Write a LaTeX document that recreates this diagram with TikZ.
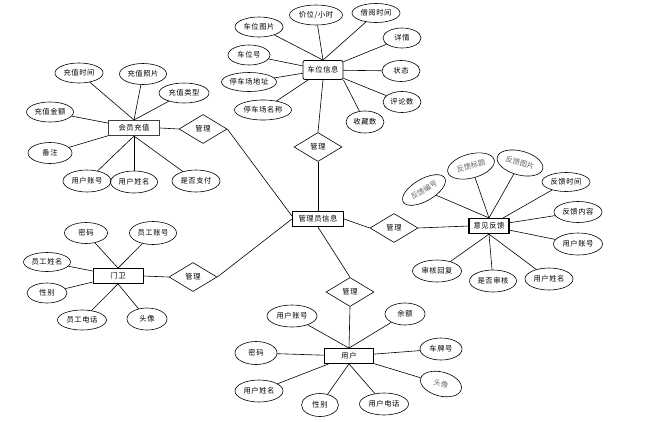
\documentclass[tikz,border=0pt]{standalone}
\usepackage{fontspec}
\setmainfont[LetterSpace=8]{Noto Sans CJK SC}
\newfontfamily\plaincjk{Noto Sans CJK SC}
\usetikzlibrary{shapes.geometric}
\begin{document}
\begin{tikzpicture}[x=1pt,y=-1pt,
  every node/.style={font=\fontsize{7.3}{9}\selectfont, inner sep=0pt},
  attr/.style={ellipse, draw, line width=0.6pt, minimum width=48pt, minimum height=21pt},
  soft/.style={text=black!60, font=\plaincjk\fontsize{7.3}{9}\selectfont},
  ent/.style={rectangle, draw, line width=0.8pt, minimum width=50pt, minimum height=15pt},
  dbl/.style={line width=1.2pt},
  rel/.style={diamond, draw, line width=0.6pt, minimum width=48pt, minimum height=29pt, aspect=1.65},
  conn/.style={line width=0.6pt}]
\useasboundingbox (0,0) rectangle (648,421);
% ---------- parking space ----------
\node[ent, rounded corners=2pt, minimum width=40pt, minimum height=19pt] (c0) at (323,70) {车位信息};
\node[attr, minimum width=53pt, minimum height=20pt] (c1) at (316,15) {价位/小时};
\node[attr, minimum height=19pt] (c2) at (376,13) {借阅时间};
\node[attr, minimum height=20pt] (c3) at (259,27) {车位图片};
\node[attr, minimum width=38pt, minimum height=20pt] (c4) at (402,38) {详情};
\node[attr, minimum width=42pt, minimum height=20pt] (c5) at (249,55) {车位号};
\node[attr, minimum width=38pt] (c6) at (401,71) {状态};
\node[attr, minimum width=53pt, minimum height=19pt] (c7) at (249,82) {停车场地址};
\node[attr, minimum width=38pt] (c8) at (402,102) {评论数};
\node[attr, minimum width=57pt, minimum height=20pt] (c9) at (263,110) {停车场名称};
\node[attr, minimum width=38pt, minimum height=22pt] (c10) at (365,122) {收藏数};
\node[rel] (r1) at (318,147) {管理};
% ---------- admin ----------
\node[ent, dbl, minimum width=51pt] (admin) at (318,219) {管理员信息};
% ---------- member recharge ----------
\node[ent, line width=1.1pt, draw=black!75, minimum width=51pt] (m0) at (134,128) {会员充值};
\node[attr, minimum height=20pt] (m1) at (79,73) {充值时间};
\node[attr, minimum width=47pt] (m2) at (143,74) {充值照片};
\node[attr, minimum width=50pt, minimum height=20pt] (m3) at (184,93) {充值类型};
\node[attr, minimum width=47pt, minimum height=20pt] (m4) at (50,112) {充值金额};
\node[attr, minimum width=44pt] (m5) at (50,153) {备注};
\node[attr, minimum height=22pt] (m6) at (87,181) {用户账号};
\node[attr, minimum width=47pt, minimum height=22pt] (m7) at (134,182) {用户姓名};
\node[attr, minimum height=22pt] (m8) at (196,181) {是否支付};
\node[rel] (r2) at (203,129) {管理};
% ---------- guard ----------
\node[ent] (g0) at (118,276) {门卫};
\node[attr, minimum width=43pt] (g1) at (86,233) {密码};
\node[attr, minimum width=47pt, minimum height=23pt] (g2) at (153,233) {员工账号};
\node[attr, minimum width=47pt, minimum height=19pt] (g3) at (47,262) {员工姓名};
\node[attr, minimum width=40pt, minimum height=20pt] (g4) at (47,293) {性别};
\node[attr, minimum width=49pt, minimum height=20pt] (g5) at (82,320) {员工电话};
\node[attr, minimum width=40pt, minimum height=22pt] (g6) at (147,319) {头像};
\node[rel] (r3) at (193,277) {管理};
% ---------- feedback ----------
\node[ent, dbl, minimum width=40pt] (f0) at (489,226) {意见反馈};
\node[attr, soft, rotate=30, minimum height=22pt] (f1) at (424,190) {反馈编号};
\node[attr, soft, rotate=15, minimum height=24pt] (f2) at (471,166) {反馈标题};
\node[attr, soft, rotate=-15, minimum width=47pt, minimum height=24pt] (f3) at (520,163) {反馈图片};
\node[attr, minimum height=19pt] (f4) at (566,182) {反馈时间};
\node[attr] (f5) at (578,212) {反馈内容};
\node[attr, minimum width=49pt, minimum height=22pt] (f6) at (578,244) {用户账号};
\node[attr, minimum width=49pt, minimum height=22pt] (f7) at (437,271) {审核回复};
\node[attr, minimum width=47pt, minimum height=22pt] (f8) at (493,281) {是否审核};
\node[attr, minimum height=22pt] (f9) at (549,279) {用户姓名};
\node[rel] (r4) at (394,228) {管理};
% ---------- user ----------
\node[ent, minimum width=49pt] (u0) at (349,356) {用户};
\node[attr, minimum width=50pt, minimum height=22pt] (u1) at (292,316) {用户账号};
\node[attr, minimum width=40pt, minimum height=22pt] (u2) at (405,314) {余额};
\node[attr, minimum width=42pt, minimum height=23pt] (u3) at (256,353) {密码};
\node[attr, minimum width=42pt, minimum height=22pt] (u4) at (441,349) {车牌号};
\node[attr, minimum height=22pt] (u5) at (259,391) {用户姓名};
\node[attr, soft, rotate=-15, minimum width=42pt, minimum height=24pt] (u6) at (441,384) {头像};
\node[attr, minimum width=37pt, minimum height=23pt] (u7) at (320,405) {性别};
\node[attr, minimum width=49pt, minimum height=22pt] (u8) at (384,404) {用户电话};
\node[rel] (r5) at (350,292) {管理};
% ---------- connectors ----------
\foreach \a in {c1,c2,c3} \draw[conn] (\a) -- (c0.north);
\foreach \a in {c4,c5,c6,c7,c8,c9} \draw[conn] (\a) -- (c0);
\draw[conn] (c10) -- (c0.south east);
\draw[conn] (r1.north) -- (c0.south);
\draw[conn] (r1.south) -- (admin.north);
\foreach \a in {m1,m2,m3} \draw[conn] (\a) -- (m0.north);
\foreach \a in {m4,m5} \draw[conn] (\a) -- (m0);
\foreach \a in {m6,m7,m8} \draw[conn] (\a) -- (m0.south);
\draw[conn] (m0.east) -- (r2.west);
\draw[conn] (r2.east) -- ([yshift=3pt]admin.west);
\foreach \a in {g1,g2} \draw[conn] (\a) -- (g0.north);
\foreach \a in {g3,g4} \draw[conn] (\a) -- (g0);
\foreach \a in {g5,g6} \draw[conn] (\a) -- (g0.south);
\draw[conn] (g0.east) -- (r3.west);
\draw[conn] (r3.east) -- (admin.west);
\draw[conn] (admin.east) -- (r4.west);
\draw[conn] (r4.east) -- (f0.west);
\foreach \a in {f1,f2,f3} \draw[conn] (\a) -- (f0.north);
\foreach \a in {f4,f5,f6} \draw[conn] (\a) -- (f0);
\foreach \a in {f7,f8,f9} \draw[conn] (\a) -- (f0.south);
\draw[conn] (admin.south) -- (r5.north);
\draw[conn] (r5.south) -- (u0.north);
\foreach \a in {u1,u2} \draw[conn] (\a) -- (u0.north);
\foreach \a in {u3,u4,u5,u6} \draw[conn] (\a) -- (u0);
\foreach \a in {u7,u8} \draw[conn] (\a) -- (u0.south);
\end{tikzpicture}
\end{document}
